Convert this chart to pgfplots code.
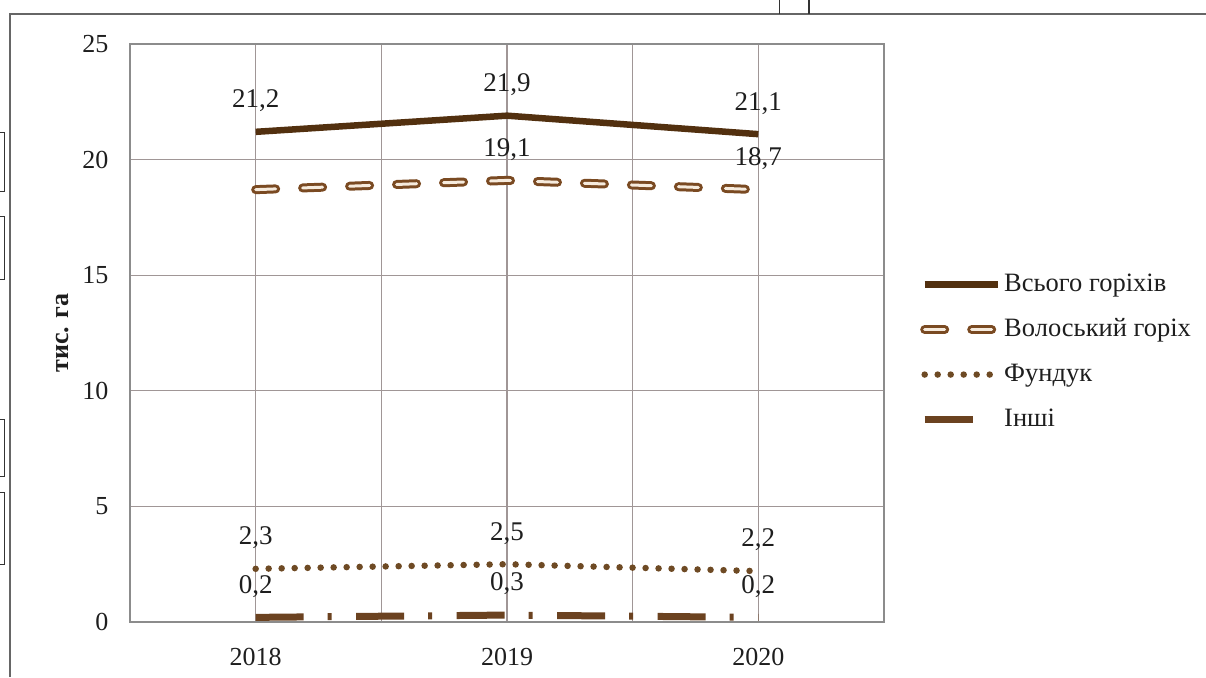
\documentclass[border=0pt]{standalone}
\usepackage{fontspec}
\setmainfont{Liberation Serif}
\usepackage{pgfplots}
\pgfplotsset{compat=1.18}

\definecolor{totalc}{HTML}{52300F}
\definecolor{walc}{HTML}{7A4A22}
\definecolor{walin}{HTML}{F6EBDD}
\definecolor{func}{HTML}{6E4A24}
\definecolor{othc}{HTML}{6B4220}
\definecolor{gridc}{HTML}{A09696}
\definecolor{axisc}{HTML}{8C8C8C}
\definecolor{textc}{HTML}{1E1E1E}

\newcommand{\tickfont}{\fontsize{26}{30}\selectfont}
\newcommand{\labfont}{\fontsize{27}{31}\selectfont}
\newcommand{\legfont}{\fontsize{26.5}{30}\selectfont}

% legend samples: long one for most series, short one for the last
\pgfplotsset{
  longleg/.style={legend image code/.code={\draw[##1] (0pt,0pt) -- (73pt,0pt);}},
  shortleg/.style={legend image code/.code={\draw[##1] (0pt,0pt) -- (53pt,0pt);}},
  vallabels/.style={
    nodes near coords={\pgfmathprintnumber[fixed,fixed zerofill,precision=1,use comma,assume math mode=true]{\pgfplotspointmeta}},
    every node near coord/.append style={anchor=center, yshift=31pt, font=\labfont, text=textc},
  },
}

\begin{document}
\begin{tikzpicture}
\useasboundingbox (0pt,0pt) rectangle (1206pt,677pt);
% page frame around the figure
\begin{scope}[x=1pt,y=1pt]
\draw[black!60, line width=1.2pt] (10,0) -- (10,663) -- (1206,663);
\draw[black!80, line width=1pt] (779,663) -- (779,677);
\draw[black!80, line width=2pt] (809,663) -- (809,677);
\foreach \t/\b in {544/485, 460/397, 257/200, 184/112}
  \draw[black!80, line width=1pt] (0,\t) -- (4,\t) -- (4,\b) -- (0,\b);
\end{scope}

\begin{axis}[
  at={(130pt,55pt)}, anchor=south west,
  width=754pt, height=578pt, scale only axis,
  xmin=2017.5, xmax=2020.5, ymin=0, ymax=25,
  xtick={2018,2019,2020}, xticklabels={2018,2019,2020},
  minor xtick={2018.5,2019.5},
  ytick={0,5,10,15,20,25},
  grid=both,
  major grid style={draw=gridc, line width=1.2pt},
  minor grid style={draw=gridc, line width=1.2pt},
  axis line style={draw=axisc, line width=1.5pt},
  major tick length=0pt, minor tick length=0pt,
  tick style={draw=none},
  tick label style={font=\tickfont, text=textc},
  /pgf/number format/assume math mode=true,
  xticklabel style={yshift=-23pt},
  yticklabel style={xshift=-18pt},
  ylabel={\textbf{тис. га}},
  every axis y label/.style={at={(axis description cs:-0.089,0.5)}, rotate=90, anchor=center, font=\tickfont, text=textc},
  clip=false,
  legend style={at={(axis description cs:1,0.467)}, anchor=west, xshift=33pt,
    draw=none, fill=none, font=\legfont, text=textc, row sep=18pt,
    nodes={inner sep=2pt, text height=18pt, text depth=5pt}},
  legend cell align=left,
  longleg,
]

\addplot[totalc, line width=6.5pt, line join=round, vallabels] coordinates {
  (2018,21.2) (2019,21.9) (2020,21.1)};
\addlegendentry{Всього горіхів}

\addplot[draw=walc, line width=3pt, double=walin, double distance=3pt,
  line cap=round, dash pattern=on 20pt off 27pt] coordinates {
  (2018,18.7) (2019,19.1) (2020,18.7)};
\addlegendentry{Волоський горіх}

\addplot[func, line width=6.5pt, line cap=round, dash pattern=on 0pt off 13pt, vallabels] coordinates {
  (2018,2.3) (2019,2.5) (2020,2.2)};
\addlegendentry{Фундук}

\addplot[othc, line width=7pt, dash pattern=on 48pt off 24pt on 4pt off 24.5pt,
  shortleg, vallabels] coordinates {
  (2018,0.2) (2019,0.3) (2020,0.2)};
\addlegendentry{Інші}

% value labels of the walnut series (the 2018 one is hidden under the total line)
\addplot[draw=none, forget plot, vallabels] coordinates {
  (2019,19.1) (2020,18.7)};

\end{axis}
\end{tikzpicture}
\end{document}
